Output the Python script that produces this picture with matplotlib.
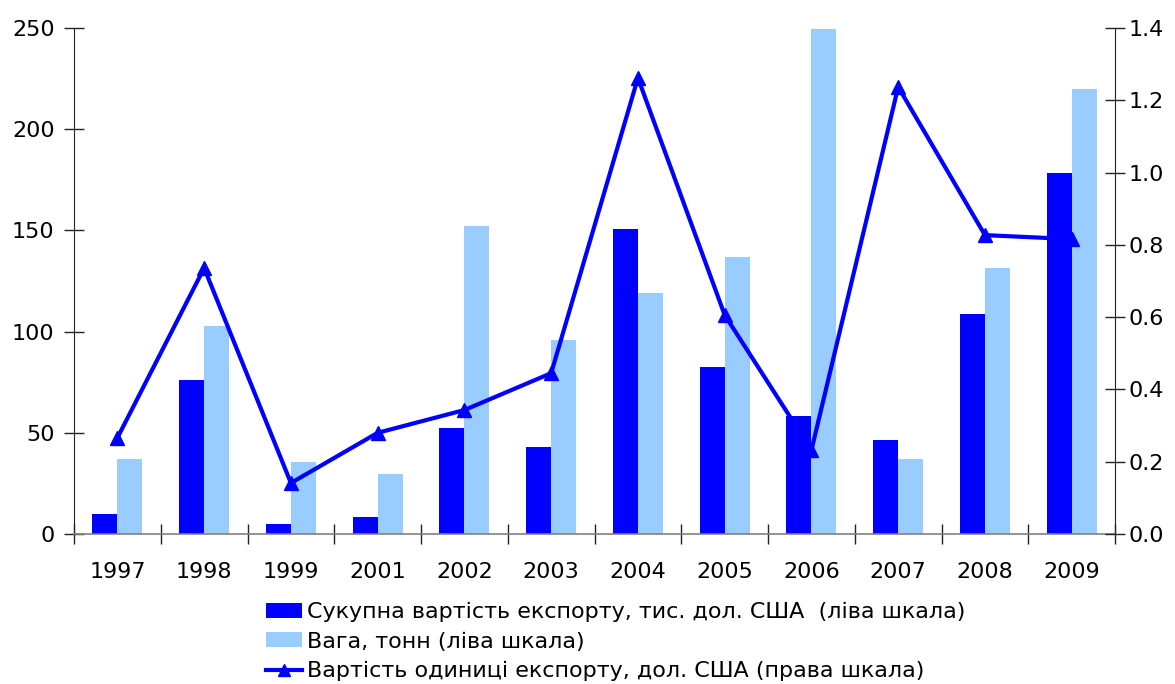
import matplotlib.pyplot as plt
from matplotlib.lines import Line2D
from matplotlib.patches import Patch

years = ["1997", "1998", "1999", "2001", "2002", "2003",
         "2004", "2005", "2006", "2007", "2008", "2009"]
export_value = [10, 76, 5, 8.4, 52.4, 43, 150.7, 82.5, 58.3, 46.4, 108.7, 178.4]
weight_tonnes = [37, 103, 35.6, 29.6, 152, 95.8, 119, 136.9, 249.5, 37, 131.4, 219.9]
unit_price = [0.266, 0.736, 0.141, 0.28, 0.343, 0.445, 1.262, 0.606, 0.232, 1.237, 0.827, 0.816]

labels = [
    "Сукупна вартість експорту, тис. дол. США  (ліва шкала)",
    "Вага, тонн (ліва шкала)",
    "Вартість одиниці експорту, дол. США (права шкала)",
]

dark = "#0000FF"
light = "#99CCFF"

plt.rcParams['font.family'] = ['DejaVu Sans']

fig = plt.figure(figsize=(11.75, 6.84), dpi=100)
ax = fig.add_axes([0.063, 0.2193, 0.886, 0.7397])

x = list(range(len(years)))
w = 0.288
ax.bar([i - w / 2 for i in x], export_value, width=w, color=dark, zorder=2)
ax.bar([i + w / 2 for i in x], weight_tonnes, width=w, color=light, zorder=2)

ax.set_xlim(-0.5, len(years) - 0.5)
ax.set_ylim(0, 250)
ax.set_yticks(range(0, 251, 50))

# category boundaries as ticks, labels in the middle
ax.set_xticks([i - 0.5 for i in range(len(years) + 1)])
ax.set_xticklabels([])
ax.set_xticks(x, minor=True)
ax.set_xticklabels(years, minor=True)
ax.tick_params(axis='x', which='minor', length=0, pad=20, labelsize=16)
ax.tick_params(axis='x', which='major', direction='inout', length=14, width=1, color='#222222')
ax.tick_params(axis='y', direction='inout', length=14, width=1, labelsize=16, pad=7, color='#222222')

ax.spines['top'].set_visible(False)
ax.spines['right'].set_visible(False)
ax.spines['bottom'].set_color('#808080')
ax.spines['bottom'].set_linewidth(1.2)
ax.spines['left'].set_color('#222222')

ax2 = ax.twinx()
ax2.plot(x, unit_price, color=dark, linewidth=3, marker='^', markersize=10, zorder=3)
ax2.set_ylim(0, 1.4)
ax2.set_yticks([0.0, 0.2, 0.4, 0.6, 0.8, 1.0, 1.2, 1.4])
ax2.set_yticklabels([f"{v:.1f}" for v in ax2.get_yticks()])
ax2.tick_params(axis='y', direction='inout', length=14, width=1, labelsize=16, pad=3, color='#222222')
for s in ['top', 'left', 'bottom']:
    ax2.spines[s].set_visible(False)
ax2.spines['right'].set_color('#222222')

handles = [
    Patch(facecolor=dark),
    Patch(facecolor=light),
    Line2D([0], [0], color=dark, linewidth=3, marker='^', markersize=9),
]
fig.legend(handles, labels, loc='upper left', bbox_to_anchor=(0.2264, 0.12),
           frameon=False, borderpad=0, borderaxespad=0, fontsize=16,
           handlelength=1.62, handleheight=0.68, handletextpad=0.23, labelspacing=0.43)

fig.savefig("out.png", dpi=100)
